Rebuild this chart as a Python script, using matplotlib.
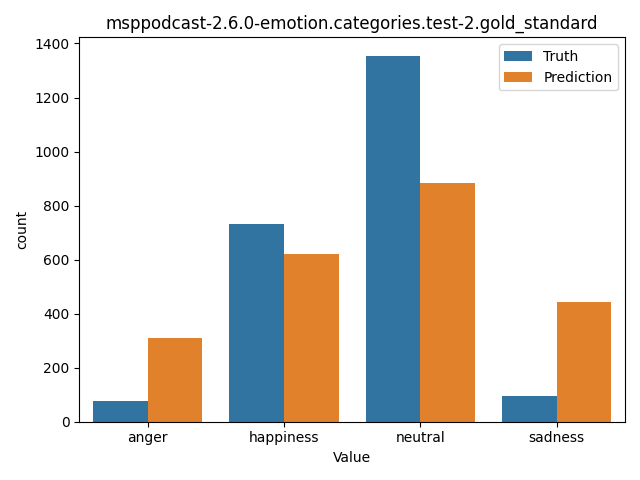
import numpy as np
import pandas as pd
import matplotlib
matplotlib.use("Agg")
import matplotlib.pyplot as plt
import seaborn as sns

categories = ["anger", "happiness", "neutral", "sadness"]
truth_counts = [76, 732, 1355, 95]
pred_counts = [310, 621, 884, 444]

df = pd.DataFrame({
    "Value": categories * 2,
    "count": truth_counts + pred_counts,
    "source": ["Truth"] * 4 + ["Prediction"] * 4,
})

fig, ax = plt.subplots(figsize=(6.4, 4.8))
sns.barplot(data=df, x="Value", y="count", hue="source", ax=ax)
ax.set_title("msppodcast-2.6.0-emotion.categories.test-2.gold_standard")
ax.legend(title=None, loc="upper right")
plt.tight_layout()
fig.savefig("out.png", dpi=100)
